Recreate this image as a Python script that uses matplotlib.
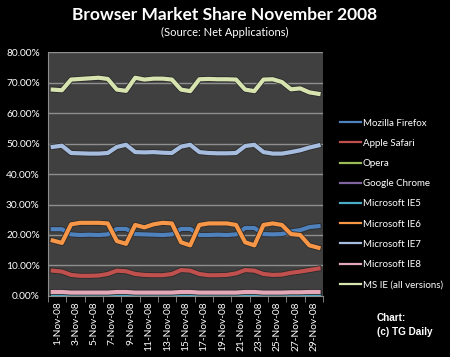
import numpy as np
import matplotlib
matplotlib.use("Agg")
import matplotlib.pyplot as plt
import matplotlib.patheffects as pe
from matplotlib.ticker import FixedLocator, FuncFormatter

# days of November 2008
days = [f"{d}-Nov-08" for d in range(1, 31)]

# market share (%)
firefox = [21.9, 21.9, 20.2, 20.0, 20.1, 20.0, 20.2, 22.0, 22.0, 20.3,
           20.2, 20.1, 20.0, 20.2, 22.0, 22.0, 20.0, 20.0, 20.1, 20.0,
           20.2, 22.3, 22.3, 20.3, 20.2, 20.3, 21.2, 21.6, 22.6, 22.9]
safari = [8.3, 8.0, 6.9, 6.6, 6.6, 6.7, 7.2, 8.3, 8.1, 7.2,
          6.9, 6.8, 6.8, 7.2, 8.5, 8.3, 7.2, 6.8, 6.8, 6.9,
          7.4, 8.5, 8.3, 7.2, 6.9, 7.0, 7.6, 8.0, 8.5, 9.0]
opera = [0.7] * 30
chrome = [0.9, 0.9, 0.9, 0.9, 0.9, 0.9, 0.9, 1.0, 1.0, 0.9,
          0.9, 0.9, 0.9, 0.9, 1.0, 1.0, 0.9, 0.9, 0.9, 0.9,
          0.9, 1.0, 1.0, 0.9, 0.9, 0.9, 1.0, 1.0, 1.0, 1.0]
ie5 = [0.1] * 30
ie6 = [18.2, 17.4, 23.5, 24.0, 24.0, 24.0, 23.8, 18.0, 17.1, 23.3,
       22.5, 23.5, 24.0, 23.8, 17.6, 16.6, 23.3, 23.8, 23.8, 23.8,
       23.3, 17.6, 16.6, 23.3, 23.8, 23.3, 20.3, 20.0, 16.6, 15.8]
ie7 = [48.9, 49.3, 46.9, 46.8, 46.7, 46.7, 46.9, 48.9, 49.6, 47.2,
       47.1, 47.2, 47.0, 46.9, 49.0, 49.6, 47.2, 46.9, 46.8, 46.8,
       46.9, 49.2, 49.6, 47.2, 46.7, 46.7, 47.2, 47.8, 48.7, 49.4]
ie8 = [1.3, 1.3, 1.1, 1.1, 1.1, 1.1, 1.1, 1.3, 1.3, 1.1,
       1.1, 1.1, 1.1, 1.1, 1.3, 1.3, 1.1, 1.1, 1.1, 1.1,
       1.1, 1.3, 1.3, 1.1, 1.1, 1.1, 1.2, 1.2, 1.3, 1.3]
ie_all = [67.7, 67.5, 71.0, 71.2, 71.4, 71.6, 71.2, 67.7, 67.3, 71.6,
          71.0, 71.3, 71.3, 71.0, 67.7, 67.2, 71.1, 71.2, 71.1, 71.1,
          71.0, 67.7, 67.2, 71.0, 71.1, 70.2, 67.8, 68.1, 66.8, 66.3]

series = [
    ("Mozilla Firefox", firefox, "#4f81bd"),
    ("Apple Safari", safari, "#c0504d"),
    ("Opera", opera, "#9bbb59"),
    ("Google Chrome", chrome, "#8064a2"),
    ("Microsoft IE5", ie5, "#4bacc6"),
    ("Microsoft IE6", ie6, "#f79646"),
    ("Microsoft IE7", ie7, "#a7bde0"),
    ("Microsoft IE8", ie8, "#e3a9b8"),
    ("MS IE (all versions)", ie_all, "#d8e4b0"),
]

fig = plt.figure(figsize=(4.5, 3.57), dpi=100, facecolor="black")
ax = fig.add_axes([0.107, 0.171, 0.611, 0.683])
ax.set_facecolor("#404040")

x = np.arange(len(days))
for name, vals, col in series:
    ax.plot(x, vals, color=col, lw=3.0, label=name, solid_joinstyle="round",
            path_effects=[pe.Stroke(linewidth=4.2, foreground="#2b2b2b"), pe.Normal()])

ax.set_xlim(-0.5, len(days) - 0.5)
ax.set_ylim(0, 80)
ax.set_yticks(np.arange(0, 81, 10))
ax.yaxis.set_major_formatter(FuncFormatter(lambda v, p: f"{v:.2f}%"))
ax.yaxis.grid(True, color="#8f8f8f", lw=1.0)
ax.set_axisbelow(True)

# labels every 2 days, centred over each pair of days
ax.set_xticks(x[::2] + 0.5)
ax.set_xticklabels(days[::2], rotation=90)
ax.xaxis.set_minor_locator(FixedLocator(np.arange(-0.5, len(days), 2)))
ax.tick_params(axis="x", which="major", length=0, pad=4, labelsize=7.3, labelcolor="white")
ax.tick_params(axis="x", which="minor", length=4, color="#8f8f8f")
ax.tick_params(axis="y", length=0, pad=6, labelsize=7.3, labelcolor="white")
for lab in ax.get_xticklabels() + ax.get_yticklabels():
    lab.set_family("Lato")

for s in ["top", "right"]:
    ax.spines[s].set_visible(False)
ax.spines["left"].set_color("#8f8f8f")
ax.spines["bottom"].set_color("#8f8f8f")

fig.text(0.5, 0.958, "Browser Market Share November 2008", ha="center", va="center",
         color="white", fontsize=12.5, fontweight="bold", family="Lato")
fig.text(0.5, 0.908, "(Source: Net Applications)", ha="center", va="center",
         color="white", fontsize=8, family="Lato")

leg = ax.legend(loc="upper left", bbox_to_anchor=(0.735, 0.692), bbox_transform=fig.transFigure,
                frameon=False, labelcolor="white", handlelength=2.2,
                handletextpad=0.2, labelspacing=1.15, prop={"family": "Lato", "size": 7.0})
for h in leg.get_lines():
    h.set_linewidth(1.6)
    h.set_path_effects([])

fig.text(0.838, 0.09, "Chart:\n(c) TG Daily", ha="left", va="center", color="white",
         fontsize=7.2, fontweight="bold", family="Liberation Sans", linespacing=1.45)

fig.savefig("out.png", dpi=100, facecolor="black")
